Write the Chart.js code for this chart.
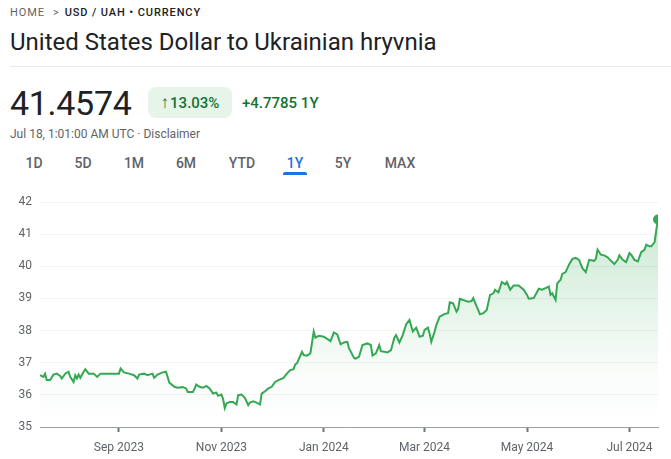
<!DOCTYPE html>
<html>
<head>
<meta charset="utf-8">
<script src="https://cdn.jsdelivr.net/npm/chart.js@4"></script>
<style>
  body { margin: 0; background: #fff; font-family: Roboto, Arial, sans-serif; color: #202124; }
  #page { position: relative; width: 671px; height: 459px; overflow: hidden; }
  .abs { position: absolute; white-space: nowrap; }
  #crumb { left: 10px; top: 6px; font-size: 11px; letter-spacing: 0.9px; line-height: 14px; }
  #crumb .home { color: #5f6368; }
  #crumb .chev { color: #5f6368; margin: 0 6px 0 8px; letter-spacing: 0; }
  #crumb .path { color: #202124; font-weight: 500; }
  #title { left: 10px; top: 27px; font-size: 24px; line-height: 30px; color: #202124; }
  #divider { left: 10px; top: 66px; width: 661px; height: 1px; background: #e8eaed; }
  #price { left: 10px; top: 83px; font-size: 34px; line-height: 40px; color: #202124; letter-spacing: -0.3px; }
  #badge { left: 148px; top: 87px; width: 84px; height: 31px; border-radius: 8px; background: #e6f4ea;
           color: #137333; font-size: 15px; font-weight: 500; line-height: 31px; text-align: center; }
  #badge .arr { font-size: 17px; font-weight: 700; margin-right: 1px; }
  #change { left: 242px; top: 93px; font-size: 15px; font-weight: 500; color: #137333; line-height: 20px; }
  #stamp { left: 10px; top: 126px; font-size: 12px; color: #5f6368; line-height: 16px; }
  .tab { top: 154px; font-size: 14px; font-weight: 500; color: #5f6368; line-height: 18px; transform: translateX(-50%); }
  .tab.on { color: #1a73e8; }
  #underline { left: 283px; top: 172px; width: 24px; height: 3px; border-radius: 2px 2px 0 0; background: #1a73e8; }
  #wrap { position: absolute; left: 0; top: 185px; width: 671px; height: 274px; }
</style>
</head>
<body>
<div id="page">
  <div id="crumb" class="abs"><span class="home">HOME</span><span class="chev">&gt;</span><span class="path">USD / UAH • CURRENCY</span></div>
  <div id="title" class="abs">United States Dollar to Ukrainian hryvnia</div>
  <div id="divider" class="abs"></div>
  <div id="price" class="abs">41.4574</div>
  <div id="badge" class="abs"><span class="arr">↑</span>13.03%</div>
  <div id="change" class="abs">+4.7785 1Y</div>
  <div id="stamp" class="abs">Jul 18, 1:01:00 AM UTC · Disclaimer</div>
  <div class="abs tab" style="left:34px">1D</div>
  <div class="abs tab" style="left:83px">5D</div>
  <div class="abs tab" style="left:134px">1M</div>
  <div class="abs tab" style="left:186px">6M</div>
  <div class="abs tab" style="left:242px">YTD</div>
  <div class="abs tab on" style="left:295px">1Y</div>
  <div class="abs tab" style="left:343px">5Y</div>
  <div class="abs tab" style="left:400px">MAX</div>
  <div id="underline" class="abs"></div>
  <div id="wrap"><canvas id="rateChart"></canvas></div>
</div>
<script>
// days since Jul 16, 2023
const days = [
  0, 2, 3, 4, 6, 8, 10, 12, 13, 15, 17, 18, 20, 21, 22, 23, 24, 26, 27, 29,
  32, 34, 36, 40, 44, 47, 48, 50, 53, 56, 58, 59, 62, 64, 67, 68, 70, 73, 75, 76,
  77, 80, 82, 85, 87, 88, 91, 92, 93, 95, 97, 99, 101, 103, 105, 106, 108, 109, 110, 111,
  113, 115, 117, 118, 120, 122, 124, 125, 127, 129, 131, 132, 134, 136, 138, 140, 142, 145, 147, 149,
  151, 152, 153, 156, 157, 159, 161, 163, 164, 166, 169, 171, 173, 175, 177, 179, 181, 183, 184, 187,
  188, 190, 192, 195, 197, 198, 200, 202, 203, 205, 207, 209, 211, 212, 214, 216, 218, 220, 222, 224,
  226, 228, 229, 231, 232, 233, 235, 236, 238, 241, 243, 244, 246, 248, 249, 250, 252, 255, 257, 258,
  260, 262, 264, 266, 268, 270, 271, 273, 275, 277, 278, 280, 282, 285, 288, 290, 291, 294, 297, 299,
  301, 303, 304, 305, 307, 308, 310, 311, 313, 315, 317, 319, 321, 323, 325, 327, 330, 331, 332, 334,
  336, 338, 340, 342, 344, 345, 347, 349, 351, 352, 354, 356, 358, 360, 361, 363, 364, 366, 367, 368
];
const rates = [
  36.61, 36.56, 36.66, 36.46, 36.46, 36.63, 36.66, 36.59, 36.51, 36.66, 36.72, 36.56, 36.40, 36.61, 36.51, 36.63, 36.53, 36.72, 36.80, 36.66,
  36.66, 36.56, 36.66, 36.66, 36.66, 36.66, 36.82, 36.70, 36.66, 36.61, 36.51, 36.63, 36.66, 36.61, 36.66, 36.53, 36.63, 36.70, 36.72, 36.56,
  36.38, 36.25, 36.22, 36.24, 36.20, 36.09, 36.09, 36.18, 36.32, 36.25, 36.22, 36.28, 36.20, 36.04, 36.07, 35.97, 36.01, 35.88, 35.59, 35.73,
  35.78, 35.78, 35.70, 35.99, 36.01, 35.91, 35.68, 35.76, 35.80, 35.76, 35.70, 36.04, 36.11, 36.20, 36.25, 36.40, 36.46, 36.53, 36.66, 36.77,
  36.80, 36.95, 36.98, 37.34, 37.24, 37.22, 37.29, 37.97, 37.78, 37.84, 37.81, 37.74, 37.67, 37.94, 37.88, 37.57, 37.63, 37.65, 37.45, 37.15,
  37.13, 37.19, 37.55, 37.60, 37.55, 37.22, 37.29, 37.55, 37.36, 37.34, 37.32, 37.39, 37.78, 37.86, 37.63, 37.86, 38.19, 38.33, 37.97, 38.09,
  37.81, 37.84, 38.02, 38.09, 37.91, 37.65, 37.97, 38.17, 38.43, 38.52, 38.54, 38.88, 38.85, 38.59, 38.67, 38.99, 38.95, 38.90, 38.92, 39.01,
  38.75, 38.51, 38.54, 38.64, 39.11, 39.16, 39.27, 39.19, 39.51, 39.44, 39.51, 39.27, 39.40, 39.40, 39.27, 39.11, 38.99, 39.01, 39.30, 39.27,
  39.32, 39.37, 39.11, 39.16, 38.95, 39.47, 39.58, 39.76, 39.82, 40.05, 40.23, 40.26, 40.20, 39.94, 39.82, 40.20, 40.17, 40.23, 40.52, 40.36,
  40.34, 40.28, 40.17, 40.07, 40.20, 40.34, 40.20, 40.13, 40.41, 40.36, 40.20, 40.15, 40.44, 40.52, 40.67, 40.62, 40.62, 40.75, 41.14, 41.4574
];
const tickDays = [47, 108, 169, 229, 290, 351];
const tickLabels = ["Sep 2023", "Nov 2023", "Jan 2024", "Mar 2024", "May 2024", "Jul 2024"];
const yTicks = [35, 36, 37, 38, 39, 40, 41, 42];

const green = "#34a853";
const ctx = document.getElementById("rateChart").getContext("2d");

const rateChart = new Chart(ctx, {
  type: "line",
  data: {
    datasets: [
      {
        data: days.map((d, i) => ({ x: d, y: rates[i] })),
        borderColor: green,
        borderWidth: 2,
        tension: 0,
        fill: "start",
        backgroundColor: (c) => {
          const area = c.chart.chartArea;
          if (!area) return "rgba(52,168,83,0.1)";
          const g = c.chart.ctx.createLinearGradient(0, area.top, 0, area.bottom);
          g.addColorStop(0, "rgba(52,168,83,0.28)");
          g.addColorStop(0.75, "rgba(52,168,83,0.03)");
          g.addColorStop(1, "rgba(52,168,83,0)");
          return g;
        },
        pointRadius: (c) => (c.dataIndex === days.length - 1 ? 5 : 0),
        pointHoverRadius: 5,
        pointBackgroundColor: green,
        pointBorderWidth: 0,
      },
    ],
  },
  options: {
    responsive: true,
    maintainAspectRatio: false,
    animation: false,
    layout: { padding: { top: 17, right: 13, left: 0, bottom: 0 } },
    scales: {
      x: {
        type: "linear",
        min: 0,
        max: 368,
        afterBuildTicks: (scale) => {
          scale.ticks = tickDays.map((v) => ({ value: v }));
        },
        afterFit: (scale) => { scale.height = 32; },
        ticks: {
          autoSkip: false,
          maxRotation: 0,
          padding: 9,
          color: "#5f6368",
          font: { family: "Roboto", size: 12 },
          callback: (v) => tickLabels[tickDays.indexOf(v)],
        },
        grid: {
          drawOnChartArea: false,
          drawTicks: true,
          tickLength: 5,
          tickWidth: 2,
          tickColor: "#70757a",
        },
        border: { display: true, color: "#9aa0a6", width: 1 },
      },
      y: {
        min: 35,
        max: 42,
        afterBuildTicks: (scale) => {
          scale.ticks = yTicks.map((v) => ({ value: v }));
        },
        afterFit: (scale) => { scale.width = 40; },
        ticks: {
          padding: 8,
          color: "#5f6368",
          font: { family: "Roboto", size: 12 },
        },
        grid: {
          color: (c) => (c.tick && c.tick.value === 35 ? "rgba(0,0,0,0)" : "#f1f3f4"),
          drawTicks: false,
        },
        border: { display: false },
      },
    },
    plugins: {
      legend: { display: false },
      tooltip: { enabled: false },
    },
  },
});
</script>
</body>
</html>
